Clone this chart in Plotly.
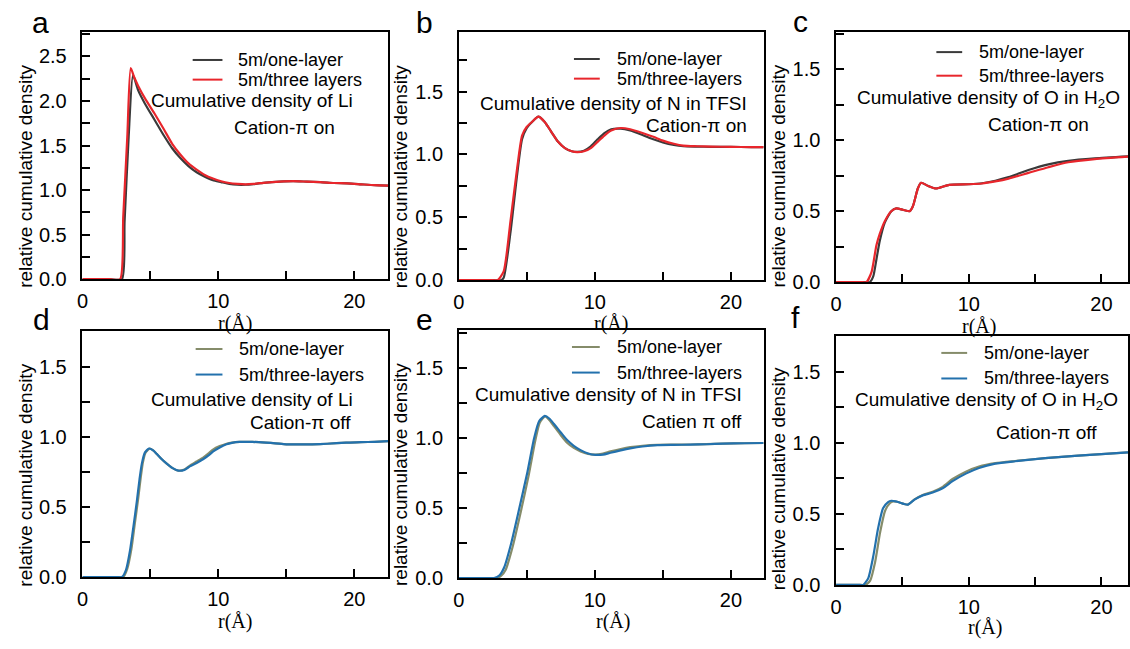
import plotly.graph_objects as go

W, H = 1130, 649

# ---------------- data ----------------
# Panel a: Li, cation-pi on
a_one_x = [0, 2.0, 2.9, 3.1, 3.4, 3.72, 4.1, 4.6, 5.3, 6.0, 6.6, 7.2, 7.8, 8.4, 9.0, 9.6, 10.2, 10.8, 11.4, 12.0, 12.6, 13.5, 14.5, 15.5, 16.5, 17.5, 18.5, 19.5, 20.5, 21.5, 22.5]
a_one_y = [0, 0, 0, 0.65, 1.6, 2.29, 2.12, 1.97, 1.79, 1.61, 1.47, 1.36, 1.27, 1.20, 1.15, 1.11, 1.09, 1.07, 1.06, 1.06, 1.068, 1.085, 1.095, 1.10, 1.095, 1.09, 1.08, 1.075, 1.065, 1.055, 1.05]
a_three_x = [0, 2.0, 2.77, 3.0, 3.3, 3.55, 3.8, 4.1, 4.6, 5.3, 6.0, 6.6, 7.2, 7.8, 8.4, 9.0, 9.6, 10.2, 10.8, 11.4, 12.0, 12.6, 13.5, 14.5, 15.5, 16.5, 17.5, 18.5, 19.5, 20.5, 21.5, 22.5]
a_three_y = [0, 0, 0, 0.70, 1.6, 2.37, 2.27, 2.17, 2.03, 1.86, 1.68, 1.52, 1.40, 1.30, 1.23, 1.17, 1.13, 1.10, 1.08, 1.07, 1.065, 1.07, 1.085, 1.095, 1.10, 1.095, 1.09, 1.08, 1.075, 1.065, 1.055, 1.05]

# Panel b: N in TFSI, cation-pi on
b_one_x = [0, 2.5, 3.1, 3.3, 3.8, 4.3, 4.65, 5.0, 5.4, 5.85, 6.3, 6.8, 7.3, 7.8, 8.3, 8.7, 9.2, 9.7, 10.2, 10.7, 11.2, 11.9, 12.6, 13.5, 14.3, 15.0, 15.8, 16.5, 17.5, 18.5, 20.0, 21.5, 22.4]
b_one_y = [0, 0, 0, 0.02, 0.38, 0.85, 1.12, 1.21, 1.26, 1.30, 1.26, 1.18, 1.10, 1.05, 1.025, 1.02, 1.03, 1.065, 1.12, 1.17, 1.20, 1.205, 1.19, 1.155, 1.12, 1.095, 1.075, 1.065, 1.062, 1.06, 1.06, 1.058, 1.058]
b_three_x = [0, 2.5, 2.85, 3.3, 3.8, 4.3, 4.65, 5.0, 5.4, 5.85, 6.3, 6.8, 7.3, 7.8, 8.3, 8.7, 9.2, 9.7, 10.2, 10.7, 11.2, 11.9, 12.6, 13.5, 14.3, 15.0, 15.8, 16.5, 17.5, 18.5, 20.0, 21.5, 22.4]
b_three_y = [0, 0, 0, 0.07, 0.47, 0.90, 1.15, 1.22, 1.26, 1.30, 1.26, 1.18, 1.10, 1.05, 1.025, 1.018, 1.025, 1.05, 1.10, 1.15, 1.19, 1.21, 1.20, 1.17, 1.14, 1.11, 1.085, 1.07, 1.065, 1.062, 1.06, 1.058, 1.058]

# Panel c: O in H2O, cation-pi on
c_one_x = [0, 2.3, 2.54, 2.8, 3.04, 3.29, 3.67, 4.16, 4.54, 5.04, 5.54, 5.79, 6.16, 6.41, 6.9, 7.53, 8.53, 10.0, 11.0, 12.0, 13.0, 14.5, 16.0, 17.5, 19.5, 22.0]
c_one_y = [0, 0, 0, 0.04, 0.16, 0.29, 0.42, 0.50, 0.52, 0.51, 0.50, 0.535, 0.66, 0.70, 0.68, 0.66, 0.686, 0.69, 0.697, 0.715, 0.74, 0.79, 0.83, 0.855, 0.872, 0.886]
c_three_x = [0, 2.0, 2.29, 2.67, 3.04, 3.29, 3.67, 4.16, 4.54, 5.04, 5.54, 5.79, 6.16, 6.41, 6.9, 7.53, 8.53, 10.0, 11.0, 12.0, 13.0, 14.5, 16.0, 17.5, 19.5, 22.0]
c_three_y = [0, 0, 0, 0.07, 0.26, 0.34, 0.43, 0.50, 0.52, 0.51, 0.50, 0.535, 0.66, 0.70, 0.68, 0.66, 0.686, 0.69, 0.695, 0.71, 0.73, 0.77, 0.81, 0.845, 0.867, 0.884]

# Panel d: Li, cation-pi off
d_one_x = [0, 2.6, 3.0, 3.3, 3.6, 3.85, 4.1, 4.3, 4.45, 4.65, 4.95, 5.2, 5.46, 5.8, 6.2, 6.6, 7.05, 7.5, 7.9, 8.4, 8.9, 9.3, 9.6, 10.1, 10.6, 11.0, 11.56, 12.5, 13.5, 14.2, 15.0, 16.0, 16.9, 18.0, 19.4, 20.5, 21.5, 22.5]
d_one_y = [0, 0, 0, 0.06, 0.20, 0.38, 0.56, 0.72, 0.82, 0.89, 0.917, 0.905, 0.88, 0.845, 0.81, 0.78, 0.76, 0.768, 0.795, 0.825, 0.855, 0.885, 0.91, 0.935, 0.952, 0.96, 0.965, 0.965, 0.96, 0.955, 0.948, 0.947, 0.948, 0.952, 0.96, 0.963, 0.966, 0.97]
d_three_x = [0, 2.5, 2.9, 3.2, 3.5, 3.75, 4.0, 4.2, 4.37, 4.6, 4.9, 5.2, 5.46, 5.8, 6.2, 6.6, 7.05, 7.5, 7.9, 8.4, 8.9, 9.3, 9.6, 10.1, 10.6, 11.0, 11.56, 12.5, 13.5, 14.2, 15.0, 16.0, 16.9, 18.0, 19.4, 20.5, 21.5, 22.5]
d_three_y = [0, 0, 0, 0.05, 0.19, 0.36, 0.54, 0.70, 0.81, 0.89, 0.918, 0.905, 0.88, 0.845, 0.81, 0.78, 0.76, 0.765, 0.79, 0.815, 0.843, 0.87, 0.895, 0.925, 0.948, 0.958, 0.965, 0.965, 0.96, 0.955, 0.948, 0.947, 0.948, 0.952, 0.96, 0.963, 0.966, 0.97]

# Panel e: N in TFSI, cation-pi off
e_one_x = [0, 2.4, 2.75, 3.1, 3.45, 3.95, 4.55, 5.15, 5.62, 5.95, 6.35, 6.65, 7.0, 7.5, 7.98, 8.45, 8.95, 9.5, 10.05, 10.6, 11.15, 11.9, 12.6, 13.5, 14.6, 15.8, 17.0, 18.2, 19.4, 21.0, 22.4]
e_one_y = [0, 0, 0, 0.015, 0.06, 0.22, 0.47, 0.74, 0.98, 1.11, 1.155, 1.13, 1.085, 1.02, 0.965, 0.93, 0.905, 0.887, 0.882, 0.89, 0.905, 0.922, 0.935, 0.945, 0.952, 0.953, 0.954, 0.957, 0.96, 0.963, 0.965]
e_three_x = [0, 2.3, 2.6, 3.0, 3.34, 3.83, 4.44, 5.05, 5.54, 5.9, 6.32, 6.65, 7.0, 7.5, 7.98, 8.45, 8.95, 9.5, 10.05, 10.6, 11.15, 11.9, 12.6, 13.5, 14.6, 15.8, 17.0, 18.2, 19.4, 21.0, 22.4]
e_three_y = [0, 0, 0, 0.02, 0.077, 0.24, 0.495, 0.76, 1.0, 1.12, 1.158, 1.14, 1.10, 1.04, 0.984, 0.945, 0.914, 0.89, 0.88, 0.882, 0.895, 0.912, 0.926, 0.94, 0.95, 0.952, 0.953, 0.956, 0.96, 0.963, 0.965]

# Panel f: O in H2O, cation-pi off
f_one_x = [0, 1.9, 2.2, 2.57, 2.94, 3.32, 3.69, 4.05, 4.3, 4.6, 4.79, 5.1, 5.41, 5.91, 6.53, 7.28, 8.03, 8.78, 9.78, 10.77, 12.0, 13.5, 15.76, 18.25, 20.0, 22.0]
f_one_y = [0, 0, 0, 0.03, 0.16, 0.37, 0.52, 0.575, 0.588, 0.585, 0.58, 0.57, 0.565, 0.602, 0.633, 0.655, 0.69, 0.745, 0.797, 0.833, 0.857, 0.872, 0.892, 0.91, 0.92, 0.933]
f_three_x = [0, 1.8, 2.04, 2.42, 2.79, 3.17, 3.54, 3.92, 4.16, 4.5, 4.79, 5.1, 5.41, 5.91, 6.53, 7.28, 8.03, 8.78, 9.78, 10.77, 12.0, 13.5, 15.76, 18.25, 20.0, 22.0]
f_three_y = [0, 0, 0, 0.046, 0.196, 0.40, 0.54, 0.583, 0.592, 0.588, 0.58, 0.57, 0.565, 0.60, 0.63, 0.65, 0.68, 0.73, 0.783, 0.823, 0.853, 0.87, 0.892, 0.91, 0.92, 0.933]

series_names_on = ["5m/one-layer", "5m/three layers"]
series_names_on2 = ["5m/one-layer", "5m/three-layers"]
series_names_off = ["5m/one-layer", "5m/three-layers"]
panel_letters = ["a", "b", "c", "d", "e", "f"]
notes_top = ["Cumulative density of Li", "Cumulative density of N in TFSI", "Cumulative density of O in H<sub>2</sub>O",
             "Cumulative density of Li", "Cumulative density of N in TFSI", "Cumulative density of O in H<sub>2</sub>O"]
notes_bottom = ["Cation-π on", "Cation-π on", "Cation-π on", "Cation-π off", "Catien π off", "Cation-π off"]
y_title = "relative cumulative density"
x_title = "r(Å)"
x_ticks = [0, 10, 20]

# ---------------- styling / layout ----------------
C_BLACK = "#3a3a3a"
C_RED = "#e8262c"
C_OLIVE = "#858c6a"
C_BLUE = "#2371ad"
SANS = "Liberation Sans, Arial, sans-serif"
SERIF = "Liberation Serif, Times New Roman, serif"


def px(x):
    return x / W


def py(y):
    return 1 - y / H


panels = [
    dict(d=(a_one_x, a_one_y, a_three_x, a_three_y), names=series_names_on, cols=(C_BLACK, C_RED),
         xd=(77, 385), yd=(33, 284), xr=22.5, yr=2.77,
         leg=(188, 218, 232, 61, 81), n1=(248, 102, "center"), n2=(280, 130, "center"),
         yt=(20, 179), xt=(231, 329), letter=(35, 23)),
    dict(d=(b_one_x, b_one_y, b_three_x, b_three_y), names=series_names_on2, cols=(C_BLACK, C_RED),
         xd=(456, 763), yd=(33, 285), xr=22.4, yr=1.97,
         leg=(572, 598, 613, 60, 80), n1=(748, 105, "right"), n2=(748, 128, "right"),
         yt=(398, 180), xt=(609, 329), letter=(421, 23)),
    dict(d=(c_one_x, c_one_y, c_three_x, c_three_y), names=series_names_on2, cols=(C_BLACK, C_RED),
         xd=(836, 1130), yd=(33, 287), xr=22.0, yr=1.76,
         leg=(937, 963, 978, 53, 77), n1=(990, 101, "center"), n2=(1040, 127, "center"),
         yt=(778, 179), xt=(980, 332), letter=(800, 22)),
    dict(d=(d_one_x, d_one_y, d_three_x, d_three_y), names=series_names_off, cols=(C_OLIVE, C_BLUE),
         xd=(77, 385), yd=(337, 587), xr=22.5, yr=1.755,
         leg=(191, 218, 233, 355, 381), n1=(248, 406, "center"), n2=(297, 430, "center"),
         yt=(20, 483), xt=(231, 632), letter=(36, 325)),
    dict(d=(e_one_x, e_one_y, e_three_x, e_three_y), names=series_names_off, cols=(C_OLIVE, C_BLUE),
         xd=(456, 763), yd=(336, 588), xr=22.4, yr=1.77,
         leg=(570, 598, 613, 353, 379), n1=(743, 401, "right"), n2=(743, 429, "right"),
         yt=(398, 483), xt=(611, 632), letter=(421, 325)),
    dict(d=(f_one_x, f_one_y, f_three_x, f_three_y), names=series_names_off, cols=(C_OLIVE, C_BLUE),
         xd=(836, 1130), yd=(342, 595), xr=22.0, yr=1.75,
         leg=(942, 968, 983, 359, 385), n1=(987, 408, "center"), n2=(1048, 440, "center"),
         yt=(778, 487), xt=(986, 638), letter=(795, 323)),
]

fig = go.Figure()
layout = dict(width=W, height=H, margin=dict(l=0, r=0, t=0, b=0),
              paper_bgcolor="white", plot_bgcolor="white", showlegend=False)
annotations = []
shapes = []

for i, p in enumerate(panels):
    k = "" if i == 0 else str(i + 1)
    ox, oy, tx, ty = p["d"]
    fig.add_trace(go.Scatter(x=ox, y=oy, mode="lines", name=p["names"][0],
                             line=dict(color=p["cols"][0], width=2.2, shape="spline", smoothing=0.6),
                             xaxis="x" + k, yaxis="y" + k))
    fig.add_trace(go.Scatter(x=tx, y=ty, mode="lines", name=p["names"][1],
                             line=dict(color=p["cols"][1], width=2.2, shape="spline", smoothing=0.6),
                             xaxis="x" + k, yaxis="y" + k))
    common = dict(showline=True, linecolor="black", linewidth=1.5, mirror=True,
                  ticks="inside", ticklen=8, tickwidth=1.5, tickcolor="black",
                  showgrid=False, zeroline=False,
                  tickfont=dict(family=SANS, size=20, color="black"))
    layout["xaxis" + k] = dict(common, domain=[px(p["xd"][0]), min(1.0, px(p["xd"][1]))],
                               range=[0, p["xr"]], anchor="y" + k,
                               tickvals=x_ticks, ticklabelstandoff=3,
                               minor=dict(dtick=5, tick0=0, ticks="inside", ticklen=8,
                                          tickwidth=1.5, tickcolor="black"))
    layout["yaxis" + k] = dict(common, domain=[py(p["yd"][1]), py(p["yd"][0])],
                               range=[0, p["yr"]], anchor="x" + k,
                               dtick=0.5, tick0=0, tickformat=".1f", ticklabelstandoff=10,
                               minor=dict(dtick=0.25, tick0=0, ticks="inside", ticklen=8,
                                          tickwidth=1.5, tickcolor="black"))
    # legend keys
    lx0, lx1, ltx, ly1, ly2 = p["leg"]
    for j, yy in enumerate((ly1, ly2)):
        shapes.append(dict(type="line", xref="paper", yref="paper",
                           x0=px(lx0), x1=px(lx1), y0=py(yy), y1=py(yy),
                           line=dict(color=p["cols"][j], width=2)))
        annotations.append(dict(text=p["names"][j], xref="paper", yref="paper",
                                x=px(ltx), y=py(yy), xanchor="left", yanchor="middle",
                                showarrow=False, font=dict(family=SANS, size=18, color="black")))
    # notes
    for (nx, ny, anc), txt in ((p["n1"], notes_top[i]), (p["n2"], notes_bottom[i])):
        annotations.append(dict(text=txt, xref="paper", yref="paper", x=px(nx), y=py(ny),
                                xanchor=anc, yanchor="middle", showarrow=False,
                                font=dict(family=SANS, size=19, color="black")))
    # axis titles
    annotations.append(dict(text=y_title, xref="paper", yref="paper",
                            x=px(p["yt"][0]), y=py(p["yt"][1]), textangle=-90,
                            xanchor="center", yanchor="middle", showarrow=False,
                            font=dict(family=SANS, size=19, color="black")))
    annotations.append(dict(text=x_title, xref="paper", yref="paper",
                            x=px(p["xt"][0]), y=py(p["xt"][1]),
                            xanchor="center", yanchor="middle", showarrow=False,
                            font=dict(family=SERIF, size=20, color="black")))
    # panel letter
    annotations.append(dict(text=panel_letters[i], xref="paper", yref="paper",
                            x=px(p["letter"][0]), y=py(p["letter"][1]),
                            xanchor="center", yanchor="middle", showarrow=False,
                            font=dict(family=SANS, size=30, color="black")))

layout["annotations"] = annotations
layout["shapes"] = shapes
fig.update_layout(**layout)
fig.write_html("out.html")
